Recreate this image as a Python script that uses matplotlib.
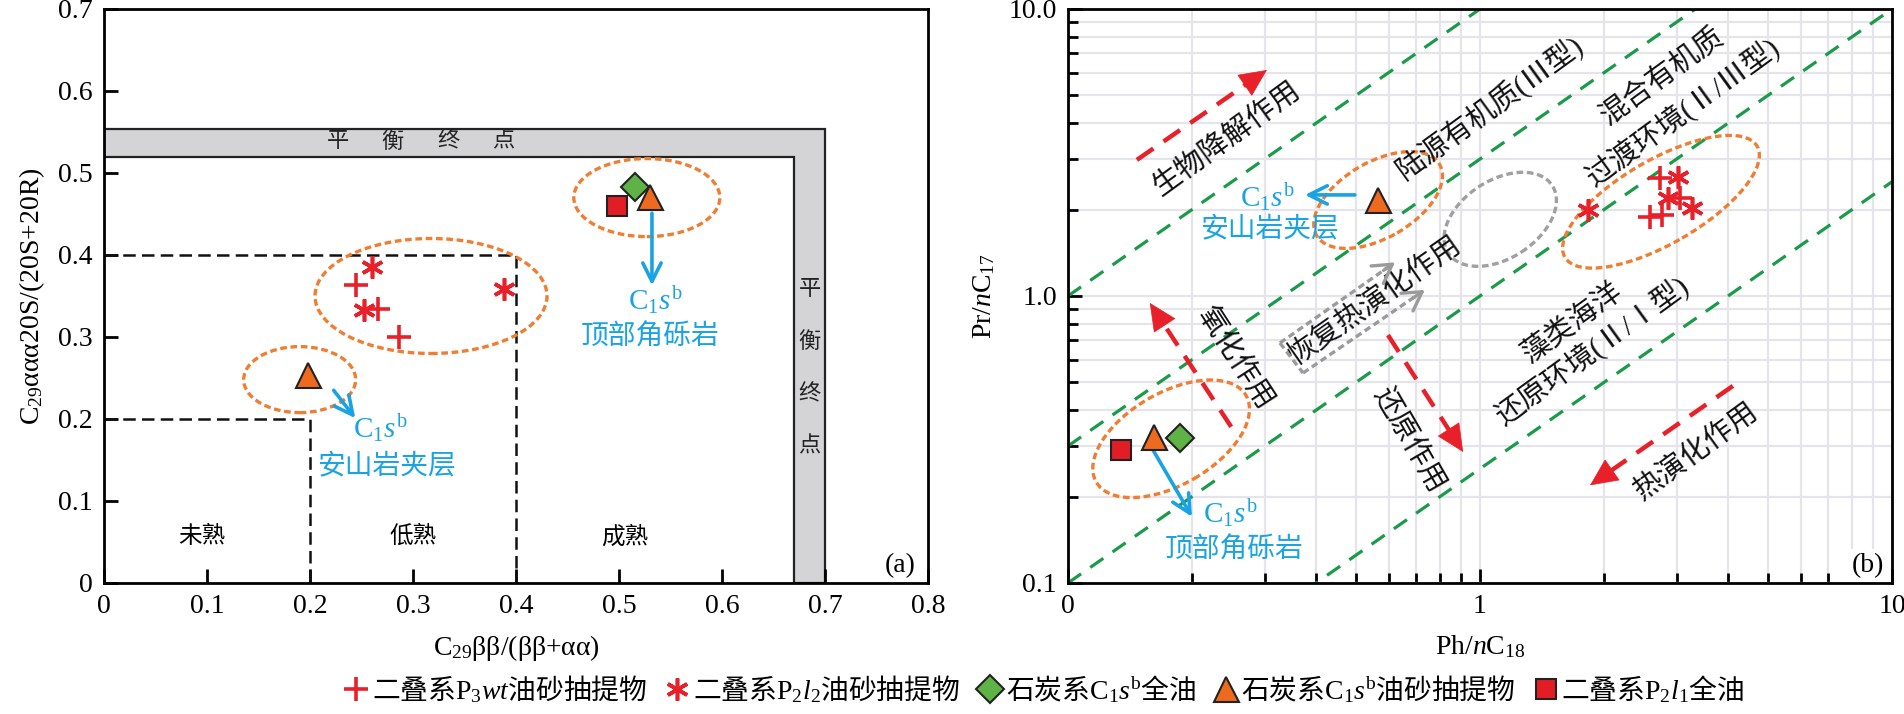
import matplotlib
matplotlib.use("Agg")
import matplotlib.pyplot as plt
from matplotlib.patches import Ellipse, Polygon
from matplotlib.transforms import ScaledTranslation
from matplotlib.ticker import NullFormatter

plt.rcParams['font.family'] = ['Liberation Serif', 'Noto Sans CJK SC']
plt.rcParams['mathtext.fontset'] = 'custom'
plt.rcParams['mathtext.rm'] = 'Liberation Serif'
plt.rcParams['mathtext.it'] = 'Liberation Serif:italic'
plt.rcParams['mathtext.bf'] = 'Liberation Serif:bold'

RED = '#e8202a'; ORANGE = '#ef7d32'; BLUE = '#1aa3e2'; GREEN_L = '#1b9a4a'
TRI = '#ee6a1f'; DIA = '#5fb246'; SQ = '#e31d25'; BAND = '#d4d4d6'; GREY = '#9b9b9b'

# (a) C29 sterane maturity
a_p3wt_x = [0.245, 0.266, 0.286]
a_p3wt_y = [0.363, 0.334, 0.300]
a_p2l2_x = [0.260, 0.252, 0.388]
a_p2l2_y = [0.385, 0.333, 0.358]
a_oil_x = [0.516]; a_oil_y = [0.483]
a_ext_x = [0.198, 0.530]; a_ext_y = [0.254, 0.471]
a_p2l1_x = [0.498]; a_p2l1_y = [0.460]

# (b) Pr/nC17 vs Ph/nC18
b_p3wt_x = [2.73, 2.59, 2.77, 3.06]
b_p3wt_y = [2.58, 1.88, 1.91, 2.19]
b_p2l2_x = [3.03, 2.86, 3.27, 1.83]
b_p2l2_y = [2.60, 2.19, 2.03, 2.00]
b_oil_x = [0.187]; b_oil_y = [0.320]
b_ext_x = [0.162, 0.566]; b_ext_y = [0.323, 2.16]
b_p2l1_x = [0.1345]; b_p2l1_y = [0.290]

ratio_lines = [10, 3, 1, 0.25]

labels = [r'二叠系$\mathrm{P}_3\mathit{wt}$油砂抽提物',
          r'二叠系$\mathrm{P}_2\mathit{l}_2$油砂抽提物',
          r'石炭系$\mathrm{C}_1\mathit{s}^\mathrm{b}$全油',
          r'石炭系$\mathrm{C}_1\mathit{s}^\mathrm{b}$油砂抽提物',
          r'二叠系$\mathrm{P}_2\mathit{l}_1$全油']

STY = [dict(marker='+', color=RED, ms=17, mew=2.6, ls='none'),
       dict(marker=(6, 2, 0), color=RED, ms=16, mew=2.6, ls='none'),
       dict(marker='D', mfc=DIA, mec='#222222', ms=14, mew=1.5, ls='none'),
       dict(marker='^', mfc=TRI, mec='#222222', ms=18, mew=1.5, ls='none'),
       dict(marker='s', mfc=SQ, mec='#222222', ms=14, mew=1.5, ls='none')]

CS = r'$\mathrm{C}_1\mathit{s}^\mathrm{b}$'


def ring(ax, x, y, w, h, ang=0, color=ORANGE):
    tr = ScaledTranslation(x, y, ax.transData)
    ax.add_patch(Ellipse((0, 0), w, h, angle=ang, transform=tr, fill=False,
                         ec=color, lw=2.4, ls=(0, (2, 1.1)), zorder=3))


def arrow(ax, p0, p1, color, lw=2.6, ms=22):
    ax.annotate('', xy=p1, xytext=p0,
                arrowprops=dict(arrowstyle='->,head_length=0.6,head_width=0.3', color=color, lw=lw,
                                shrinkA=0, shrinkB=0, mutation_scale=ms), zorder=4)


def dash_arrow(ax, p0, p1, color, lw=3.2, dash=(4.5, 2.8), head='-|>,head_length=0.85,head_width=0.4', ms=22, f=0.15):
    # log axes: straight segment is geometric interpolation
    q = (p1[0] * (p0[0] / p1[0]) ** f, p1[1] * (p0[1] / p1[1]) ** f)
    e = (p1[0] * (p0[0] / p1[0]) ** 0.06, p1[1] * (p0[1] / p1[1]) ** 0.06)
    ax.plot([p0[0], e[0]], [p0[1], e[1]], color=color, lw=lw, ls=(0, dash), zorder=4, solid_capstyle='butt')
    ax.annotate('', xy=p1, xytext=q,
                arrowprops=dict(arrowstyle=head, color=color, lw=lw if head.startswith('->') else 0.5,
                                shrinkA=0, shrinkB=0, mutation_scale=ms), zorder=4)


fig = plt.figure(figsize=(19.04, 7.14), dpi=100)
axa = fig.add_axes([0.0546, 0.1835, 0.4328, 0.8039])
axb = fig.add_axes([0.5609, 0.1835, 0.4328, 0.8039])

# ---------------- (a)
ax = axa
ax.add_patch(Polygon([(0, 0.52), (0, 0.554), (0.70, 0.554), (0.70, 0), (0.67, 0), (0.67, 0.52)],
                     closed=True, fc=BAND, ec='#222222', lw=1.6, zorder=1))
for i, ch in enumerate('平衡终点'):
    ax.text(0.227 + i * 0.0535, 0.537, ch, fontsize=16, ha='center', va='center', color='#222222')
    ax.text(0.685, 0.357 - i * 0.064, ch, fontsize=16, ha='center', va='center', color='#222222')
ax.plot([0, 0.4, 0.4], [0.4, 0.4, 0], color='#111111', lw=1.8, ls=(0, (5, 2.5)))
ax.plot([0, 0.2, 0.2], [0.2, 0.2, 0], color='#111111', lw=1.8, ls=(0, (5, 2.5)))
for xt, t in zip([0.095, 0.30, 0.506], ['未熟', '低熟', '成熟']):
    ax.text(xt, 0.056, t, fontsize=17, ha='center', va='center')
hA = []
for (xs, ys), st in zip([(a_p3wt_x, a_p3wt_y), (a_p2l2_x, a_p2l2_y), (a_oil_x, a_oil_y),
                         (a_ext_x, a_ext_y), (a_p2l1_x, a_p2l1_y)], STY):
    hA.append(ax.plot(xs, ys, zorder=5, **st)[0])
ring(ax, 0.3175, 0.35, 232, 115)
ring(ax, 0.19, 0.248, 112, 66)
ring(ax, 0.527, 0.47, 146, 78)
arrow(ax, (0.532, 0.451), (0.532, 0.363), BLUE)
arrow(ax, (0.223, 0.235), (0.244, 0.201), BLUE)
ax.text(0.535, 0.345, CS, color=BLUE, fontsize=21, ha='center', va='center')
ax.text(0.53, 0.299, '顶部角砾岩', color=BLUE, fontsize=20, ha='center', va='center')
ax.text(0.268, 0.189, CS, color=BLUE, fontsize=21, ha='center', va='center')
ax.text(0.274, 0.142, '安山岩夹层', color=BLUE, fontsize=20, ha='center', va='center')
ax.text(0.985, 0.03, '(a)', transform=ax.transAxes, fontsize=20, ha='right', va='center')
ax.set_xlim(0, 0.8); ax.set_ylim(0, 0.7)
ax.set_xticks([0, 0.1, 0.2, 0.3, 0.4, 0.5, 0.6, 0.7, 0.8],
              ['0', '0.1', '0.2', '0.3', '0.4', '0.5', '0.6', '0.7', '0.8'])
ax.set_yticks([0, 0.1, 0.2, 0.3, 0.4, 0.5, 0.6, 0.7],
              ['0', '0.1', '0.2', '0.3', '0.4', '0.5', '0.6', '0.7'])
ax.tick_params(direction='in', length=10, width=2, labelsize=20, pad=8)
ax.set_xlabel(r'$\mathrm{C}_{29}$ββ/(ββ+αα)', fontsize=20, labelpad=10)
ax.set_ylabel(r'$\mathrm{C}_{29}$ααα20S/(20S+20R)', fontsize=20, labelpad=8)

# ---------------- (b)
ax = axb
ax.set_xscale('log'); ax.set_yscale('log')
ax.set_xlim(0.1, 10); ax.set_ylim(0.1, 10)
ax.set_axisbelow(True)
ax.grid(True, which='both', color='#e4e4ea', lw=1.6)
for k in ratio_lines:
    ax.plot([0.1, 10], [0.1 * k, 10 * k], color=GREEN_L, lw=2.3, ls=(0, (5, 3.5)), zorder=2)
for (xs, ys), st in zip([(b_p3wt_x, b_p3wt_y), (b_p2l2_x, b_p2l2_y), (b_oil_x, b_oil_y),
                         (b_ext_x, b_ext_y), (b_p2l1_x, b_p2l1_y)], STY):
    ax.plot(xs, ys, zorder=5, **st)
ring(ax, 0.566, 2.16, 142, 76, 30)
ring(ax, 1.12, 1.85, 124, 78, 33, color='#a0a0a0')
ring(ax, 2.75, 2.13, 222, 84, 30)
ring(ax, 0.178, 0.318, 173, 92, 30)

dash_arrow(ax, (0.147, 2.98), (0.304, 6.13), RED)
dash_arrow(ax, (0.249, 0.35), (0.158, 0.946), RED)
dash_arrow(ax, (0.598, 0.731), (0.91, 0.286), RED)
dash_arrow(ax, (4.11, 0.486), (1.85, 0.219), RED)
# hollow grey arrow
gd = (2, 1.2)
dash_arrow(ax, (0.327, 0.686), (0.622, 1.31), GREY, lw=2.4, dash=gd,
           head='->,head_length=0.6,head_width=0.35', f=0.1)
dash_arrow(ax, (0.372, 0.539), (0.735, 1.05), GREY, lw=2.4, dash=gd,
           head='->,head_length=0.6,head_width=0.35', f=0.1)
ax.plot([0.327, 0.372], [0.686, 0.539], color=GREY, lw=2.4, ls=(0, gd), zorder=4)

arrow(ax, (0.497, 2.25), (0.376, 2.25), BLUE)
arrow(ax, (0.161, 0.29), (0.2, 0.17), BLUE)
ax.text(0.304, 2.21, CS, color=BLUE, fontsize=21, ha='center', va='center')
ax.text(0.309, 1.70, '安山岩夹层', color=BLUE, fontsize=20, ha='center', va='center')
ax.text(0.247, 0.175, CS, color=BLUE, fontsize=21, ha='center', va='center')
ax.text(0.253, 0.130, '顶部角砾岩', color=BLUE, fontsize=20, ha='center', va='center')

tk = dict(fontsize=21, ha='center', va='center', rotation_mode='anchor', color='#111111')
ax.text(0.243, 3.50, '生物降解作用', rotation=36, **tk)
ax.text(1.06, 4.52, '陆源有机质(Ⅲ型)', rotation=36, **tk)
ax.text(2.77, 5.80, '混合有机质', rotation=36, **tk)
ax.text(3.11, 4.38, '过渡环境(Ⅱ/Ⅲ型)', rotation=36, **tk)
ax.text(1.68, 0.805, '藻类海洋', rotation=36, **tk)
ax.text(1.87, 0.648, '还原环境(Ⅱ/Ⅰ型)', rotation=36, **tk)
ax.text(0.254, 0.608, '氧化作用', rotation=-57, **tk)
ax.text(0.559, 0.96, '恢复热演化作用', rotation=35, **tk)
ax.text(0.668, 0.315, '还原作用', rotation=-60, **tk)
ax.text(3.35, 0.286, '热演化作用', rotation=36, **tk)
ax.text(0.99, 0.03, '(b)', transform=ax.transAxes, fontsize=20, ha='right', va='center',
        bbox=dict(fc='white', ec='none', pad=3))

ax.set_xticks([0.1, 1, 10], ['0', '1', '10'])
ax.set_yticks([0.1, 1, 10], ['0.1', '1.0', '10.0'])
ax.xaxis.set_minor_formatter(NullFormatter())
ax.yaxis.set_minor_formatter(NullFormatter())
ax.tick_params(which='both', direction='in', width=2, labelsize=20, pad=8)
ax.tick_params(which='major', length=10)
ax.tick_params(which='minor', length=7)
ax.set_xlabel(r'Ph/$\mathit{n}\mathrm{C}_{18}$', fontsize=20, labelpad=10)
ax.set_ylabel(r'Pr/$\mathit{n}\mathrm{C}_{17}$', fontsize=20, labelpad=8)

for a in (axa, axb):
    for s in a.spines.values():
        s.set_linewidth(2)

fig.legend(hA, labels, loc='center', bbox_to_anchor=(0.548, 0.034), ncol=5, frameon=False,
           prop=dict(family=['Noto Sans CJK SC'], size=20),
           handletextpad=0.05, columnspacing=0.6, handlelength=1.0, borderpad=0)
fig.savefig('out.png', dpi=100, facecolor='white')
